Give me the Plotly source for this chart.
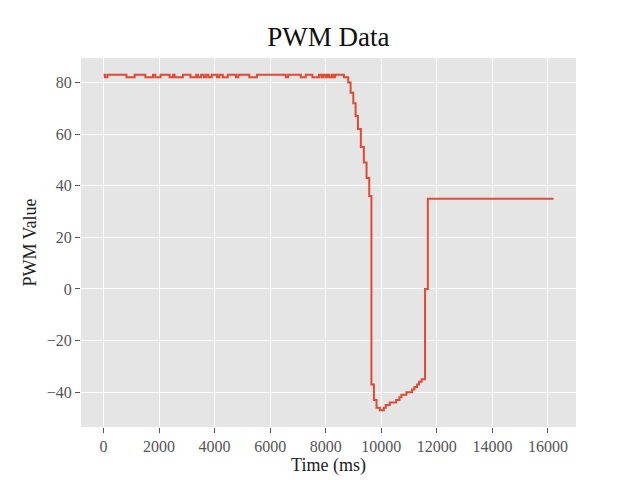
import plotly.graph_objects as go

# PWM samples at the points where the value changes (ms, PWM)
time_ms = [
    0, 50, 140, 825, 1123, 1507, 1783, 1865, 2055, 2378, 2500, 2558, 2859,
    3131, 3336, 3397, 3515, 3612, 3695, 3777, 3899, 4089, 4172, 4294, 4473,
    4771, 4853, 5248, 5524, 6564, 6647, 7102, 7282, 7522, 7759, 7845, 7917,
    7999, 8060, 8117, 8203, 8275, 8332,
    8655, 8810, 8896, 8993, 9075, 9158, 9265, 9373, 9470, 9567, 9645,
    9735, 9829, 9947, 10090, 10162, 10305, 10535, 10653, 10725, 10905,
    11109, 11192, 11288, 11360, 11453, 11575, 11676, 16200,
]
pwm = [
    83, 82, 83, 82, 83, 82, 83, 82, 83, 82, 83, 82, 83,
    82, 83, 82, 83, 82, 83, 82, 83, 82, 83, 82, 83,
    82, 83, 82, 83, 82, 83, 82, 83, 82, 83, 82, 83,
    82, 83, 82, 83, 82, 83,
    82, 80, 76, 72, 67, 62, 55, 49, 43, 36, -37,
    -43, -46, -47, -46, -45, -44, -43, -42, -41, -40,
    -39, -38, -37, -36, -35, 0, 35, 35,
]
x_ticks = list(range(0, 16001, 2000))
x_labels = [str(v) for v in x_ticks]
y_ticks = list(range(-40, 81, 20))
y_labels = [str(v).replace("-", "\u2212") for v in y_ticks]

BG, GRID, TICK = "#E5E5E5", "#FFFFFF", "#555555"
FONT = "Liberation Serif"

fig = go.Figure(go.Scatter(
    x=time_ms, y=pwm, mode="lines", line_shape="hv",
    line={"color": "#E24A33", "width": 2}, showlegend=False))

axis = dict(showgrid=True, gridcolor=GRID, gridwidth=1.3, zeroline=False,
            showline=False, ticks="outside", ticklen=5, tickcolor=TICK,
            automargin=False,
            tickfont={"size": 16, "color": TICK, "family": FONT})
fig.update_xaxes(axis, range=[-810, 17010], tickvals=x_ticks, ticktext=x_labels,
                 title={"text": "Time (ms)", "font": {"size": 18, "color": "#222"}, "standoff": 2})
fig.update_yaxes(axis, range=[-53.5, 89.5], tickvals=y_ticks, ticktext=y_labels,
                 title={"text": "PWM Value", "font": {"size": 18, "color": "#222"}, "standoff": 5})
fig.update_layout(
    width=640, height=480, paper_bgcolor="white", plot_bgcolor=BG,
    font={"family": FONT},
    title={"text": "PWM Data", "x": 0.513, "xanchor": "center", "y": 0.905, "yanchor": "bottom",
           "font": {"size": 27, "color": "#111"}},
    margin={"l": 81, "r": 64, "t": 58, "b": 53},
)
# the page's default body margin would push the figure off the window
fig.write_html("out.html", config={"displayModeBar": False},
               post_script="document.body.style.margin = '0';")
